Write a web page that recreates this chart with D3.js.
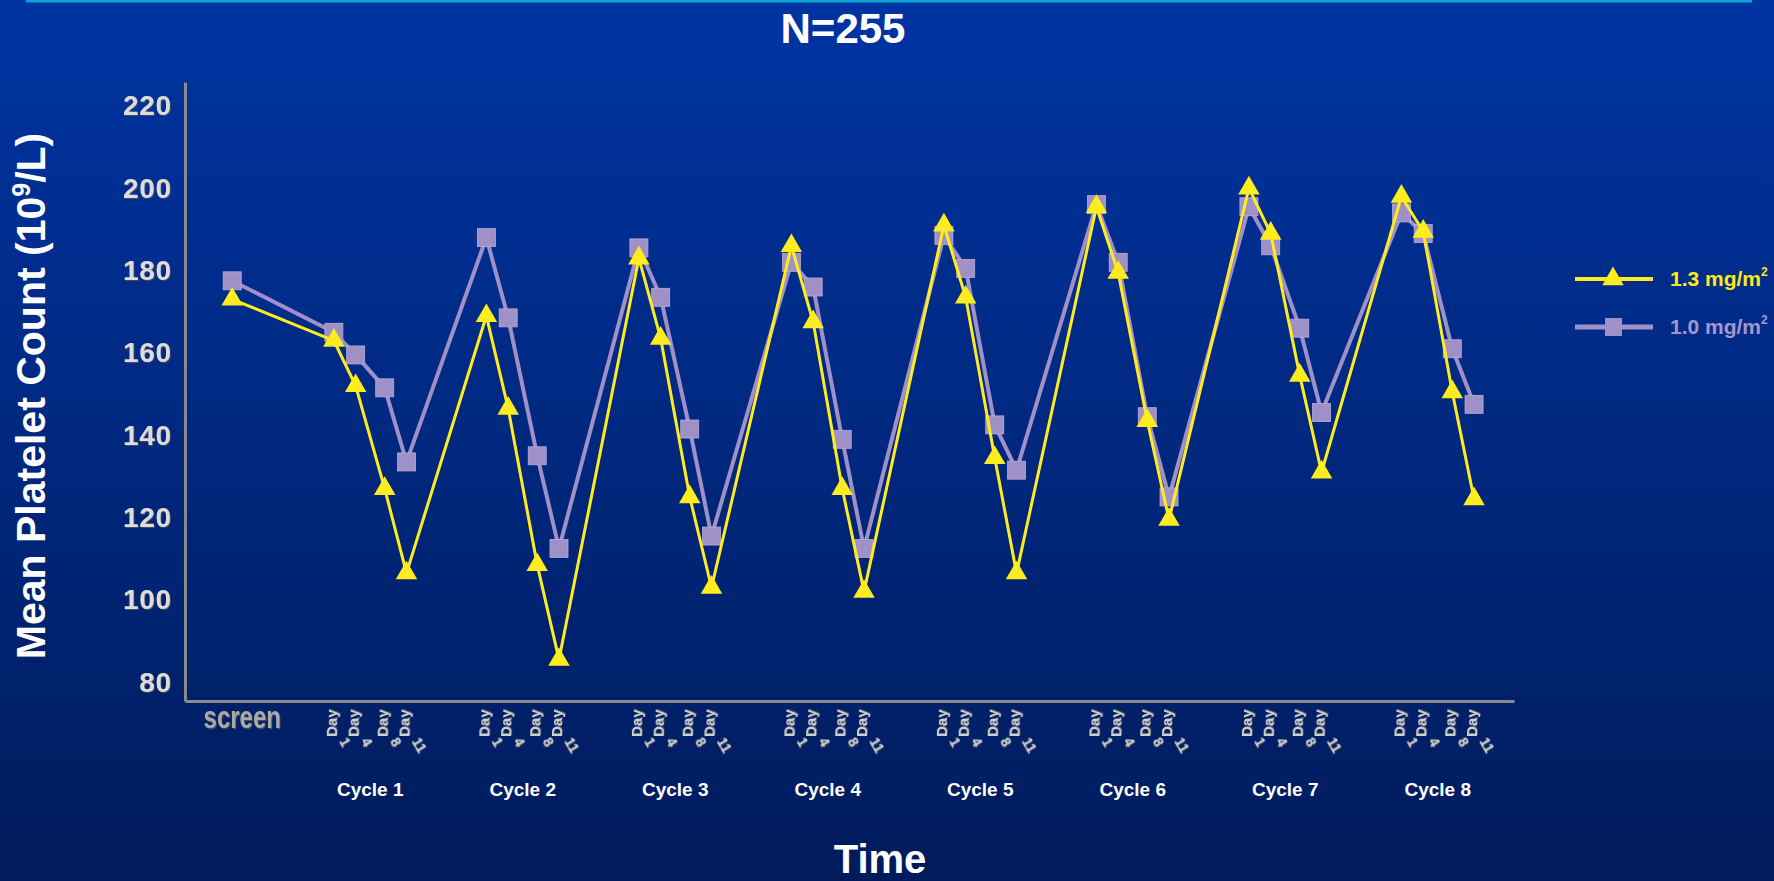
<!DOCTYPE html>
<html>
<head>
<meta charset="utf-8">
<script src="https://cdn.jsdelivr.net/npm/d3@7"></script>
<style>
  html, body { margin: 0; padding: 0; background: #002277; }
  svg { display: block; }
  text { font-family: "Liberation Sans", Arial, sans-serif; }
</style>
</head>
<body>
<svg id="chart" width="1774" height="881"></svg>
<script>
// Mean platelet count by study day, two bortezomib dose groups
const screenDay = -13;
const cycles = ["Cycle 1", "Cycle 2", "Cycle 3", "Cycle 4", "Cycle 5", "Cycle 6", "Cycle 7", "Cycle 8"];
const cycleDays = [1, 4, 8, 11];
const cycleLength = 21;
const dayLabelWord = "Day";

const dose13 = [173,
  163, 152, 127, 106.5,
  169, 146.5, 108.5, 85.5,
  183, 163.5, 125, 103,
  186, 167.5, 127, 102,
  191, 173.5, 134.5, 106.5,
  195.5, 179.5, 143.5, 119.5,
  200, 189, 154.5, 131,
  198, 189.5, 150.5, 124.5];

const dose10 = [177.5,
  165, 159.5, 151.5, 133.5,
  188, 168.5, 135, 112.5,
  185.5, 173.5, 141.5, 115.5,
  182, 176, 139, 112.5,
  188.5, 180.5, 142.5, 131.5,
  196, 182, 144.5, 125,
  195.5, 186, 166, 145.5,
  194, 189, 161, 147.5];

const yTicks = [80, 100, 120, 140, 160, 180, 200, 220];
const seriesNames = ["1.3 mg/m", "1.0 mg/m"];

// study day of each time point
const studyDays = [screenDay];
cycles.forEach((c, k) => cycleDays.forEach(d => studyDays.push(k * cycleLength + d)));

const W = 1774, H = 881;
const svg = d3.select("#chart");

// background
const defs = svg.append("defs");
const grad = defs.append("linearGradient").attr("id", "bg").attr("x1", 0).attr("y1", 0).attr("x2", 0).attr("y2", 1);
grad.append("stop").attr("offset", "0%").attr("stop-color", "#0034a3");
grad.append("stop").attr("offset", "50%").attr("stop-color", "#00287f");
grad.append("stop").attr("offset", "100%").attr("stop-color", "#001b5b");
svg.append("rect").attr("width", W).attr("height", H).attr("fill", "url(#bg)");

const shadow = defs.append("filter").attr("id", "emboss").attr("x", "-10%").attr("y", "-10%").attr("width", "130%").attr("height", "130%");
shadow.append("feDropShadow").attr("dx", 1).attr("dy", 1).attr("stdDeviation", 0.3).attr("flood-color", "#4a4a5a").attr("flood-opacity", 1);

svg.append("line").attr("x1", 26).attr("x2", 1752).attr("y1", 1).attr("y2", 1)
  .attr("stroke", "#0ba3d0").attr("stroke-width", 3);

svg.append("text").attr("x", 843).attr("y", 43).attr("text-anchor", "middle")
  .attr("font-size", 42).attr("font-weight", "bold").attr("fill", "#ffffff").text("N=255");

// scales
const x = d3.scaleLinear().domain([-19.5, 163.5]).range([185, 1514]);
const y = d3.scaleLinear().domain([75.43, 225.8]).range([701, 82]);

// y axis
const yAxis = svg.append("g").attr("transform", "translate(185,0)")
  .call(d3.axisLeft(y).tickValues(yTicks).tickSize(0).tickPadding(13).tickFormat(d3.format("d")));
yAxis.select(".domain").attr("stroke", "#8a8a8a").attr("stroke-width", 3);
yAxis.selectAll("text").attr("font-size", 28).attr("font-weight", "bold").attr("letter-spacing", 0.8)
  .attr("fill", "#dcdcdc").attr("filter", "url(#emboss)").attr("font-family", "Liberation Sans, Arial, sans-serif");

// x axis line
const xAxis = svg.append("g").attr("transform", "translate(0,701)")
  .call(d3.axisBottom(x).tickValues([]).tickSizeOuter(0));
xAxis.select(".domain").attr("stroke", "#8a8a8a").attr("stroke-width", 3);

// x labels
svg.append("text").attr("transform", `translate(${x(screenDay) + 10},728) scale(1,1.28)`)
  .attr("text-anchor", "middle").attr("font-size", 24).attr("font-weight", "bold")
  .attr("fill", "#a9a9a9").attr("filter", "url(#emboss)").text("screen");

const dayPts = studyDays.slice(1);
const dayG = svg.append("g");
dayPts.forEach((sd, i) => {
  const px = x(sd);
  const dnum = cycleDays[i % cycleDays.length];
  dayG.append("text").attr("transform", `translate(${px + 3},737) rotate(-90)`)
    .attr("font-size", 15).attr("font-weight", "bold").attr("fill", "#cfcfcf")
    .attr("filter", "url(#emboss)").text(dayLabelWord);
  dayG.append("text").attr("transform", `translate(${px + 5},741) rotate(60)`)
    .attr("font-size", 14).attr("font-weight", "bold").attr("fill", "#cfcfcf")
    .attr("filter", "url(#emboss)").text(dnum);
});

cycles.forEach((c, k) => {
  const cx = (x(k * cycleLength + cycleDays[0]) + x(k * cycleLength + cycleDays[cycleDays.length - 1])) / 2;
  svg.append("text").attr("x", cx).attr("y", 796).attr("text-anchor", "middle")
    .attr("font-size", 19).attr("font-weight", "bold").attr("fill", "#ffffff").text(c);
});

// axis titles
svg.append("text").attr("x", 880).attr("y", 873).attr("text-anchor", "middle")
  .attr("font-size", 40).attr("font-weight", "bold").attr("fill", "#ffffff").text("Time");

const yt = svg.append("text").attr("transform", "translate(45,396) rotate(-90)").attr("text-anchor", "middle")
  .attr("font-size", 41).attr("font-weight", "bold").attr("fill", "#ffffff");
yt.append("tspan").text("Mean Platelet Count (10");
yt.append("tspan").attr("font-size", 25).attr("dy", -15).text("9");
yt.append("tspan").attr("dy", 15).text("/L)");

// series
const YELLOW = "#ffec1f", PURPLE = "#a090c8";
const line = d3.line().x((d, i) => x(studyDays[i])).y(d => y(d));

svg.append("path").datum(dose10).attr("d", line).attr("fill", "none")
  .attr("stroke", PURPLE).attr("stroke-width", 4).attr("stroke-linejoin", "round");
svg.append("g").selectAll("rect").data(dose10).join("rect")
  .attr("x", (d, i) => x(studyDays[i]) - 9).attr("y", d => y(d) - 9)
  .attr("width", 18).attr("height", 18).attr("fill", PURPLE)
  .attr("stroke", "#b9acd8").attr("stroke-width", 0.8);

const tri = d3.symbol().type(d3.symbolTriangle).size(200);
svg.append("path").datum(dose13).attr("d", line).attr("fill", "none")
  .attr("stroke", YELLOW).attr("stroke-width", 3).attr("stroke-linejoin", "round");
svg.append("g").selectAll("path").data(dose13).join("path")
  .attr("d", tri).attr("transform", (d, i) => `translate(${x(studyDays[i])},${y(d)})`)
  .attr("fill", YELLOW);

// legend
const legend = svg.append("g");
const legendRows = [
  { name: seriesNames[0], color: YELLOW, yy: 279, marker: "tri", txt: "#ffe81a" },
  { name: seriesNames[1], color: PURPLE, yy: 327, marker: "sq", txt: "#a597cc" }
];
legendRows.forEach(r => {
  legend.append("line").attr("x1", 1575).attr("x2", 1653).attr("y1", r.yy).attr("y2", r.yy)
    .attr("stroke", r.color).attr("stroke-width", r.marker === "tri" ? 4 : 5);
  if (r.marker === "tri") {
    legend.append("path").attr("d", tri).attr("transform", `translate(1613,${r.yy})`).attr("fill", r.color);
  } else {
    legend.append("rect").attr("x", 1605).attr("y", r.yy - 9).attr("width", 17).attr("height", 18).attr("fill", r.color);
  }
  const t = legend.append("text").attr("x", 1670).attr("y", r.yy + 7).attr("font-size", 21)
    .attr("font-weight", "bold").attr("fill", r.txt);
  t.append("tspan").text(r.name);
  t.append("tspan").attr("font-size", 12).attr("dy", -10).text("2");
});
</script>
</body>
</html>
